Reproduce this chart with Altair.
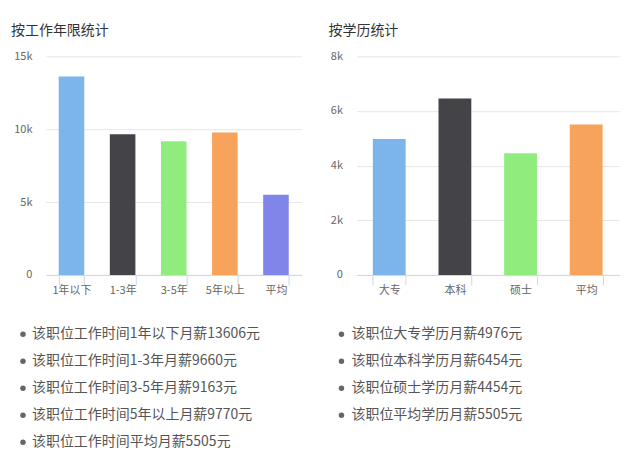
import altair as alt
import pandas as pd

year_cats = ["1年以下", "1-3年", "3-5年", "5年以上", "平均"]
year_vals = [13606, 9660, 9163, 9770, 5505]
edu_cats = ["大专", "本科", "硕士", "平均"]
edu_vals = [4976, 6454, 4454, 5505]
palette = ["#7cb5ec", "#434348", "#90ed7d", "#f7a35c", "#8085e9"]
year_ticks = [0, 5000, 10000, 15000]
edu_ticks = [0, 2000, 4000, 6000, 8000]
year_title = "按工作年限统计"
edu_title = "按学历统计"
year_lines = [f"该职位工作时间{c}月薪{v}元" for c, v in zip(year_cats, year_vals)]
edu_lines = [f"该职位{c}学历月薪{v}元" for c, v in zip(edu_cats, edu_vals)]

FONT = "Noto Sans CJK SC"


def bar_panel(cats, vals, ticks, title, width, title_dx):
    df = pd.DataFrame({"cat": cats, "val": vals, "idx": list(range(len(cats)))})
    return alt.Chart(df).mark_bar().encode(
        x=alt.X(
            "cat:N", sort=cats, title=None,
            scale=alt.Scale(paddingInner=0.5, paddingOuter=0.25),
            axis=alt.Axis(labelAngle=0, tickBand="extent", ticks=True, tickSize=10,
                          tickColor="#ccd6eb", domainColor="#ccd6eb", labelPadding=0,
                          grid=False, labelColor="#666666", labelFontSize=11, labelFont=FONT),
        ),
        y=alt.Y(
            "val:Q", title=None,
            scale=alt.Scale(domain=[0, ticks[-1]], nice=False),
            axis=alt.Axis(values=ticks,
                          labelExpr="datum.value == 0 ? '0' : (datum.value / 1000) + 'k'",
                          domain=False, ticks=False, tickSize=0, labelPadding=14,
                          gridColor="#e6e6e6", labelColor="#666666", labelFontSize=11,
                          labelFont=FONT),
        ),
        color=alt.Color("idx:N", scale=alt.Scale(domain=list(range(len(cats))),
                                                 range=palette[:len(cats)]), legend=None),
    ).properties(
        width=width, height=219,
        title=alt.TitleParams(title, anchor="start", frame="group", dx=title_dx,
                              fontSize=14, font=FONT, color="#333333",
                              fontWeight="normal", offset=12),
    )


def text_panel(lines, width, dot_x, text_x):
    df = pd.DataFrame({"line": lines, "row": list(range(len(lines)))})
    base = alt.Chart(df).encode(y=alt.Y("row:O", axis=None, title=None))
    dots = base.mark_circle(size=30, color="#666666", opacity=1).encode(x=alt.value(dot_x))
    txt = base.mark_text(align="left", baseline="middle", fontSize=14, font=FONT,
                         color="#555555").encode(x=alt.value(text_x), text="line:N")
    return alt.layer(dots, txt).properties(width=width, height=alt.Step(27))


left_bar = bar_panel(year_cats, year_vals, year_ticks, year_title, 256, -35)
right_bar = bar_panel(edu_cats, edu_vals, edu_ticks, edu_title, 263, -28)
left_text = text_panel(year_lines, 256, -23, -14)
right_text = text_panel(edu_lines, 263, -15, -5)

chart = alt.concat(
    left_bar, right_bar, left_text, right_text,
    columns=2,
    spacing=alt.RowColnumber(row=46, column=55),
    align="each",
    bounds="flush",
).properties(
    padding={"left": 3, "top": 16, "right": 5, "bottom": 5},
).configure(font=FONT).configure_view(strokeWidth=0)

chart.save("out.html", embed_options={"renderer": "svg", "actions": False})
